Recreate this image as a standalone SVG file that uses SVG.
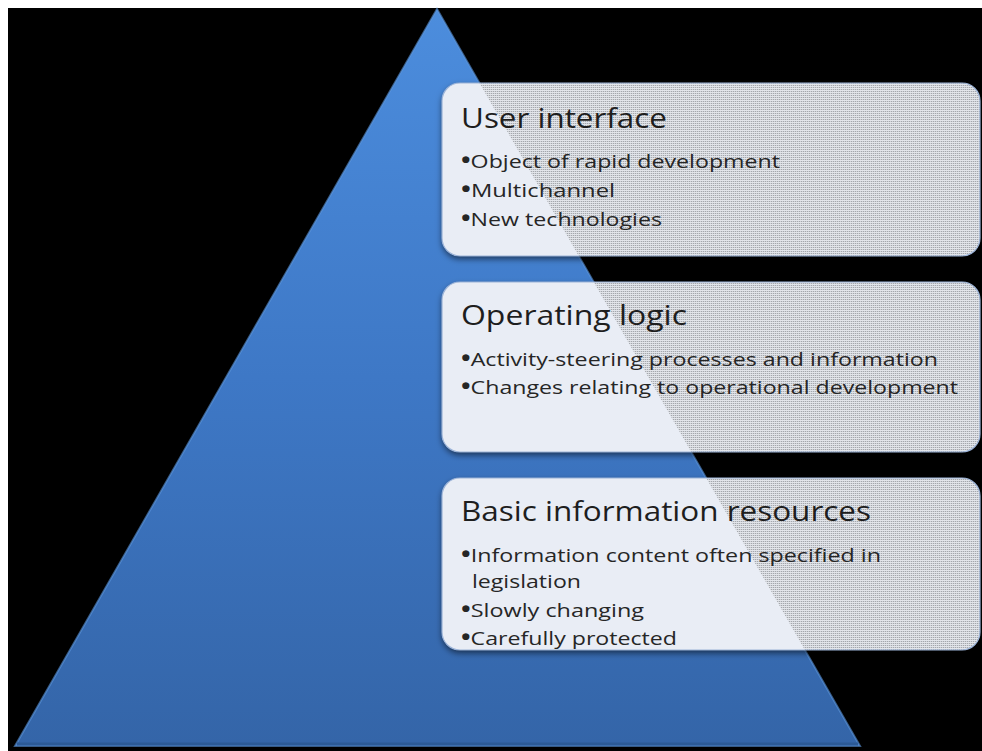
<svg xmlns="http://www.w3.org/2000/svg" width="982" height="751" viewBox="0 0 982 751">
  <style>
    .title { font-family: "Open Sans", "Liberation Sans", sans-serif; font-size: 27px; fill: #1e1e1e; }
    .item { font-family: "Open Sans", "Liberation Sans", sans-serif; font-size: 19px; fill: #262626; }
    .b { font-size: 21px; font-weight: bold; }
    .solid { fill: #e9edf5; }
    .dith { fill: url(#dither); }
    .edge { fill: none; stroke: #9bb3d8; stroke-width: 1.2; }
  </style>
  <defs>
    <linearGradient id="triGrad" x1="0" y1="0" x2="0" y2="1">
      <stop offset="0" stop-color="#4c8ddd"/>
      <stop offset="0.5" stop-color="#3e78c6"/>
      <stop offset="1" stop-color="#3465a8"/>
    </linearGradient>
    <pattern id="dither" width="2" height="2" patternUnits="userSpaceOnUse">
      <rect x="0" y="0" width="2" height="2" fill="#e2e5ea" shape-rendering="crispEdges"/>
      <rect x="1" y="1" width="1" height="1" fill="#a4a7ac" shape-rendering="crispEdges"/>
      <rect x="0" y="1" width="1" height="1" fill="#cfd2d8" shape-rendering="crispEdges"/>
    </pattern>
    <clipPath id="triClip">
      <polygon points="437,9 860,746 15,746"/>
    </clipPath>
    <filter id="shadow" x="-5%" y="-10%" width="110%" height="125%">
      <feDropShadow dx="0" dy="3" stdDeviation="3" flood-color="#000" flood-opacity="0.55"/>
    </filter>
  </defs>

  <rect x="0" y="0" width="982" height="751" fill="#000000"/>
  <rect x="0" y="0" width="982" height="8" fill="#ffffff"/>
  <rect x="0" y="0" width="8" height="751" fill="#ffffff"/>

  <g id="pyramid">
    <polygon points="437,9 860,746 15,746" fill="url(#triGrad)"/>
    <polygon points="437,9 860,746 15,746" fill="none" stroke="#5e97de" stroke-width="2" stroke-opacity="0.6"/>
    <line x1="17" y1="744" x2="858" y2="744" stroke="#2c5a96" stroke-width="3"/>
  </g>

  <g id="connectors"></g>

  <g id="box-user-interface">
    <rect x="442" y="83" width="538" height="173" rx="18" class="dith" filter="url(#shadow)"/>
    <rect x="442" y="83" width="538" height="173" rx="18" class="solid" clip-path="url(#triClip)"/>
    <rect x="442" y="83" width="538" height="173" rx="18" class="edge"/>
    <text class="title" x="461" y="128" textLength="206" lengthAdjust="spacingAndGlyphs">User interface</text>
    <text class="item" x="461" y="168" textLength="319" lengthAdjust="spacingAndGlyphs"><tspan class="b">•</tspan>Object of rapid development</text>
    <text class="item" x="461" y="197" textLength="154" lengthAdjust="spacingAndGlyphs"><tspan class="b">•</tspan>Multichannel</text>
    <text class="item" x="461" y="226" textLength="201" lengthAdjust="spacingAndGlyphs"><tspan class="b">•</tspan>New technologies</text>
  </g>

  <g id="box-operating-logic">
    <rect x="442" y="282" width="538" height="170" rx="18" class="dith" filter="url(#shadow)"/>
    <rect x="442" y="282" width="538" height="170" rx="18" class="solid" clip-path="url(#triClip)"/>
    <rect x="442" y="282" width="538" height="170" rx="18" class="edge"/>
    <text class="title" x="461" y="325" textLength="226" lengthAdjust="spacingAndGlyphs">Operating logic</text>
    <text class="item" x="461" y="366" textLength="477" lengthAdjust="spacingAndGlyphs"><tspan class="b">•</tspan>Activity-steering processes and information</text>
    <text class="item" x="461" y="394" textLength="497" lengthAdjust="spacingAndGlyphs"><tspan class="b">•</tspan>Changes relating to operational development</text>
  </g>

  <g id="box-basic-information">
    <rect x="442" y="478" width="538" height="172" rx="18" class="dith" filter="url(#shadow)"/>
    <rect x="442" y="478" width="538" height="172" rx="18" class="solid" clip-path="url(#triClip)"/>
    <rect x="442" y="478" width="538" height="172" rx="18" class="edge"/>
    <text class="title" x="461" y="521" textLength="410" lengthAdjust="spacingAndGlyphs">Basic information resources</text>
    <text class="item" x="461" y="562" textLength="420" lengthAdjust="spacingAndGlyphs"><tspan class="b">•</tspan>Information content often specified in</text>
    <text class="item" x="472" y="588" textLength="109" lengthAdjust="spacingAndGlyphs">legislation</text>
    <text class="item" x="461" y="617" textLength="183" lengthAdjust="spacingAndGlyphs"><tspan class="b">•</tspan>Slowly changing</text>
    <text class="item" x="461" y="645" textLength="216" lengthAdjust="spacingAndGlyphs"><tspan class="b">•</tspan>Carefully protected</text>
  </g>
</svg>
